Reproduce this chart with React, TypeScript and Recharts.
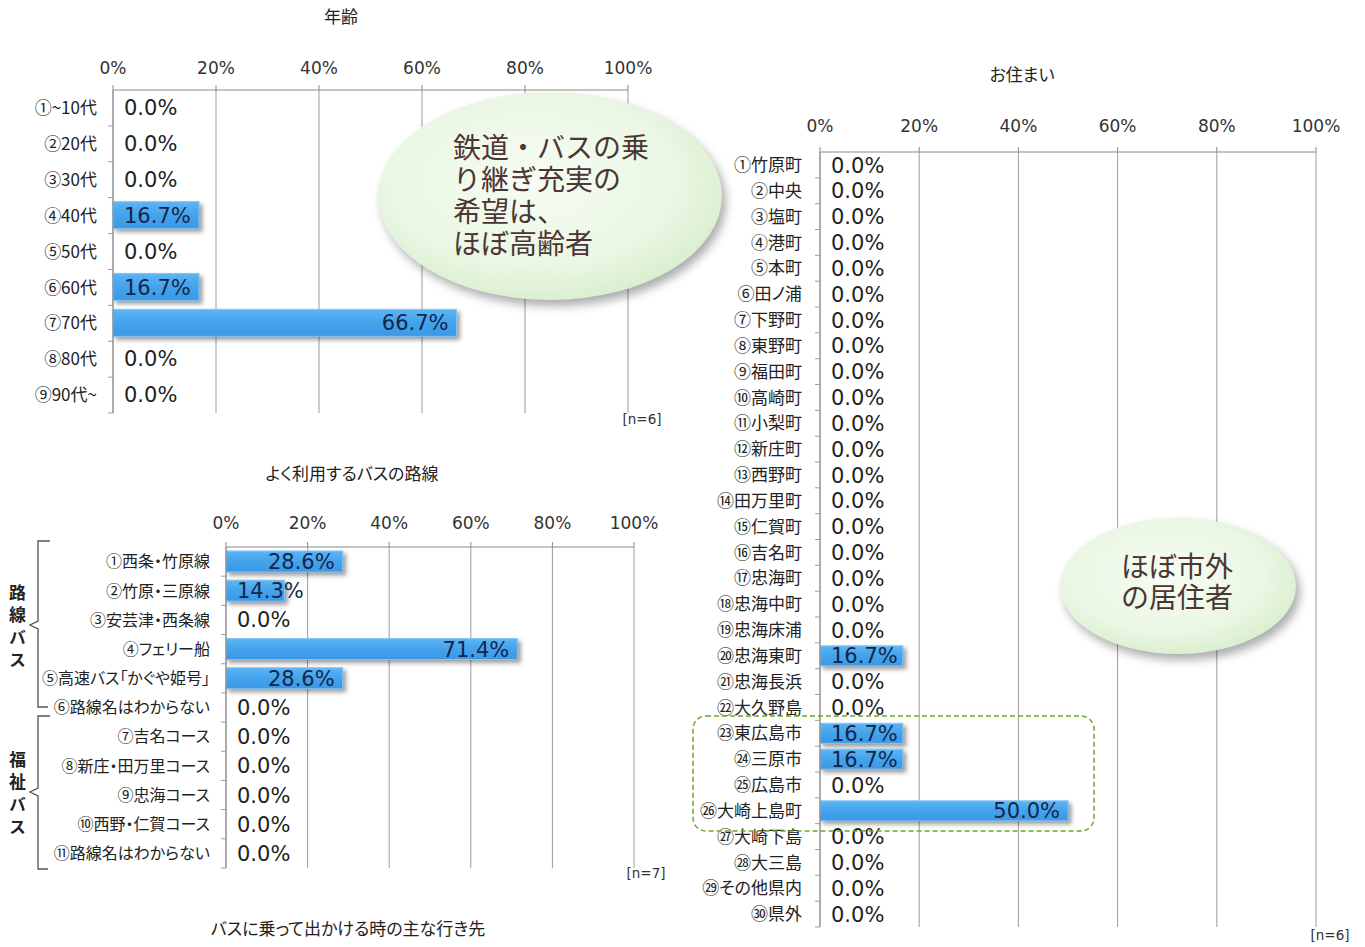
import React from 'react';
import { BarChart, Bar, XAxis, YAxis, CartesianGrid, LabelList } from 'recharts';

// ---------- data ----------
const ageCategories = ['①~10代', '②20代', '③30代', '④40代', '⑤50代', '⑥60代', '⑦70代', '⑧80代', '⑨90代~'];
const ageValues = [0, 0, 0, 16.7, 0, 16.7, 66.7, 0, 0];

const routeCategories = [
  '①西条・竹原線', '②竹原・三原線', '③安芸津・西条線', '④フェリー船', '⑤高速バス「かぐや姫号」',
  '⑥路線名はわからない', '⑦吉名コース', '⑧新庄・田万里コース', '⑨忠海コース', '⑩西野・仁賀コース', '⑪路線名はわからない',
];
const routeValues = [28.6, 14.3, 0, 71.4, 28.6, 0, 0, 0, 0, 0, 0];

const residenceCategories = [
  '①竹原町', '②中央', '③塩町', '④港町', '⑤本町', '⑥田ノ浦', '⑦下野町', '⑧東野町', '⑨福田町', '⑩高崎町',
  '⑪小梨町', '⑫新庄町', '⑬西野町', '⑭田万里町', '⑮仁賀町', '⑯吉名町', '⑰忠海町', '⑱忠海中町', '⑲忠海床浦', '⑳忠海東町',
  '㉑忠海長浜', '㉒大久野島', '㉓東広島市', '㉔三原市', '㉕広島市', '㉖大崎上島町', '㉗大崎下島', '㉘大三島', '㉙その他県内', '㉚県外',
];
const residenceValues = [
  0, 0, 0, 0, 0, 0, 0, 0, 0, 0,
  0, 0, 0, 0, 0, 0, 0, 0, 0, 16.7,
  0, 0, 16.7, 16.7, 0, 50.0, 0, 0, 0, 0,
];

const percentTicks = [0, 20, 40, 60, 80, 100];

const ageTitle = '年齢';
const routeTitle = 'よく利用するバスの路線';
const residenceTitle = 'お住まい';
const nextTitle = 'バスに乗って出かける時の主な行き先';

const bubble1Text = '鉄道・バスの乗\nり継ぎ充実の\n希望は、\nほぼ高齢者';
const bubble2Text = 'ほぼ市外\nの居住者';
const routeGroup1 = '路線バス';
const routeGroup2 = '福祉バス';

// ---------- styles ----------
const JP = '"Noto Sans CJK JP", "Noto Sans", sans-serif';
const NUM = '"DejaVu Sans", Verdana, sans-serif';
const GRID = '#9c9c9c';
const X_AXIS_H = 30;

const charW: Record<string, number> = { '.': 0.318, '%': 0.95 };
function estWidth(t: string, fs: number) {
  let w = 0;
  for (const c of t) w += charW[c] ?? 0.636;
  return w * fs;
}

const ShadowBar = (props: any) => {
  const { x, y, width, height } = props;
  if (!width || width <= 0) return <g />;
  return (
    <rect
      x={x}
      y={y}
      width={width}
      height={height}
      fill="url(#barGrad)"
      stroke="#86c4f3"
      strokeWidth={1}
      style={{ filter: 'drop-shadow(3px 3px 2px rgba(0,0,0,0.38))' }}
    />
  );
};

const ValueLabel = (props: any) => {
  const vb = props.viewBox || {};
  const x = props.x ?? vb.x;
  const y = props.y ?? vb.y;
  const width = props.width ?? vb.width ?? 0;
  const height = props.height ?? vb.height ?? 0;
  const fs = props.fontSize || 21;
  const text = `${Number(props.value).toFixed(1)}%`;
  const w = estWidth(text, fs);
  const cy = y + height / 2;
  const inside = width > w + 22;
  return (
    <text
      x={inside ? x + width - 8 : x + 11}
      y={cy}
      dy="0.36em"
      textAnchor={inside ? 'end' : 'start'}
      fontFamily={NUM}
      fontSize={fs}
      fill={Number(props.value) > 0 ? '#13264a' : '#1e1e1e'}
    >
      {text}
    </text>
  );
};

const CategoryTick = (props: any) => {
  const { x, y, payload, band, gap, fontSize } = props;
  return (
    <g>
      <text
        x={x - gap}
        y={y}
        dy="0.36em"
        textAnchor="end"
        fontFamily={JP}
        fontSize={fontSize}
        fill="#222"
        style={{ fontFeatureSettings: '"palt"' }}
      >
        {payload.value}
      </text>
      <line x1={x - 5} x2={x} y1={y + band / 2} y2={y + band / 2} stroke={GRID} />
    </g>
  );
};

type Spec = {
  categories: string[];
  values: number[];
  width: number;
  height: number;
  margin: { top: number; right: number; bottom: number; left: number };
  yWidth: number;
  barSize: number;
  tickGap: number;
  xTickMargin: number;
  labelFont: number;
  catFont: number;
};

function PercentBarChart({ spec }: { spec: Spec }) {
  const data = spec.categories.map((name, i) => ({ name, value: spec.values[i] }));
  const plotH = spec.height - spec.margin.top - spec.margin.bottom - X_AXIS_H;
  const band = plotH / data.length;
  return (
    <BarChart
      layout="vertical"
      width={spec.width}
      height={spec.height}
      data={data}
      margin={spec.margin}
      barSize={spec.barSize}
    >
      <CartesianGrid horizontal={false} stroke={GRID} />
      <XAxis
        type="number"
        orientation="top"
        domain={[0, 100]}
        ticks={percentTicks}
        tickFormatter={(v: number) => `${v}%`}
        height={X_AXIS_H}
        axisLine={{ stroke: '#8a8a8a' }}
        tickLine={{ stroke: '#8a8a8a' }}
        tickSize={5}
        tickMargin={spec.xTickMargin}
        tick={{ fill: '#333', fontSize: 17, fontFamily: NUM }}
        interval={0}
      />
      <YAxis
        type="category"
        dataKey="name"
        width={spec.yWidth}
        axisLine={{ stroke: '#8a8a8a' }}
        tickLine={false}
        tickSize={0}
        tickMargin={0}
        interval={0}
        tick={(p: any) => (
          <CategoryTick {...p} band={band} gap={spec.tickGap} fontSize={spec.catFont} />
        )}
      />
      <Bar dataKey="value" isAnimationActive={false} shape={<ShadowBar />}>
        <LabelList dataKey="value" content={<ValueLabel fontSize={spec.labelFont} />} />
      </Bar>
    </BarChart>
  );
}

const ageSpec: Spec = {
  categories: ageCategories,
  values: ageValues,
  width: 700,
  height: 430,
  margin: { top: 60, right: 72, bottom: 17, left: 0 },
  yWidth: 113,
  barSize: 27,
  tickGap: 16,
  xTickMargin: 11,
  labelFont: 21,
  catFont: 17,
};

const routeSpec: Spec = {
  categories: routeCategories,
  values: routeValues,
  width: 700,
  height: 460,
  margin: { top: 77, right: 66, bottom: 32, left: 0 },
  yWidth: 226,
  barSize: 21,
  tickGap: 16,
  xTickMargin: 13,
  labelFont: 21,
  catFont: 16,
};

const residenceSpec: Spec = {
  categories: residenceCategories,
  values: residenceValues,
  width: 685,
  height: 907,
  margin: { top: 82, right: 49, bottom: 20, left: 0 },
  yWidth: 140,
  barSize: 20,
  tickGap: 18,
  xTickMargin: 15,
  labelFont: 21,
  catFont: 17,
};

const titleStyle = { fontFamily: JP, fontSize: 17, fill: '#222', fontFeatureSettings: '"palt"' } as any;
const nStyle = { fontFamily: NUM, fontSize: 13.5, fill: '#333' } as any;

const bubbleDiv: React.CSSProperties = {
  position: 'absolute',
  fontFamily: JP,
  fontSize: 28,
  color: '#4b3535',
  whiteSpace: 'pre',
};

const vertDiv: React.CSSProperties = {
  position: 'absolute',
  writingMode: 'vertical-rl',
  fontFamily: JP,
  fontSize: 17,
  fontWeight: 700,
  lineHeight: '18px',
  letterSpacing: '5.5px',
  color: '#222',
  whiteSpace: 'nowrap',
};

export default function App() {
  return (
    <div
      style={{
        position: 'absolute',
        left: 0,
        top: 0,
        width: 1365,
        height: 947,
        background: '#fff',
        overflow: 'hidden',
      }}
    >
      <div style={{ position: 'absolute', left: 0, top: 0 }}>
        <PercentBarChart spec={ageSpec} />
      </div>
      <div style={{ position: 'absolute', left: 0, top: 440 }}>
        <PercentBarChart spec={routeSpec} />
      </div>
      <div style={{ position: 'absolute', left: 680, top: 40 }}>
        <PercentBarChart spec={residenceSpec} />
      </div>

      <svg
        width={1365}
        height={947}
        style={{ position: 'absolute', left: 0, top: 0, pointerEvents: 'none' }}
      >
        <defs>
          <linearGradient id="barGrad" x1="0" y1="0" x2="0" y2="1">
            <stop offset="0%" stopColor="#5cb5f5" />
            <stop offset="50%" stopColor="#44a3ec" />
            <stop offset="100%" stopColor="#3a98e6" />
          </linearGradient>
          <radialGradient id="bubbleGrad" cx="45%" cy="42%" r="60%">
            <stop offset="0%" stopColor="#f6fcf2" />
            <stop offset="70%" stopColor="#eaf7e3" />
            <stop offset="100%" stopColor="#d9eecf" />
          </radialGradient>
        </defs>

        {/* titles */}
        <text x={341} y={23} textAnchor="middle" style={titleStyle}>{ageTitle}</text>
        <text x={1022} y={81} textAnchor="middle" style={titleStyle}>{residenceTitle}</text>
        <text x={352} y={480} textAnchor="middle" style={titleStyle}>{routeTitle}</text>
        <text x={348} y={935} textAnchor="middle" style={titleStyle}>{nextTitle}</text>

        {/* sample sizes */}
        <text x={642} y={424} textAnchor="middle" style={nStyle}>[n=6]</text>
        <text x={646} y={878} textAnchor="middle" style={nStyle}>[n=7]</text>
        <text x={1330} y={940} textAnchor="middle" style={nStyle}>[n=6]</text>

        {/* bubbles */}
        <ellipse
          cx={550}
          cy={196}
          rx={172}
          ry={104}
          fill="url(#bubbleGrad)"
          style={{ filter: 'drop-shadow(4px 6px 5px rgba(0,0,0,0.32))' }}
        />
        <ellipse
          cx={1178}
          cy={586}
          rx={118}
          ry={68}
          fill="url(#bubbleGrad)"
          style={{ filter: 'drop-shadow(4px 6px 5px rgba(0,0,0,0.32))' }}
        />

        {/* dashed highlight */}
        <rect
          x={693}
          y={716}
          width={401}
          height={115}
          rx={13}
          fill="none"
          stroke="#6fa52a"
          strokeWidth={1.5}
          strokeDasharray="5 3"
        />

        {/* brackets */}
        <path d="M50,541 L38,541 L38,621 L30,625 L38,629 L38,707 L48,707" fill="none" stroke="#555" strokeWidth={1.3} />
        <path d="M50,716 L38,716 L38,788 L30,792 L38,796 L38,869 L48,869" fill="none" stroke="#555" strokeWidth={1.3} />
      </svg>

      {/* bubble texts */}
      <div style={{ ...bubbleDiv, left: 453, top: 130, lineHeight: '32px' }}>{bubble1Text}</div>
      <div style={{ ...bubbleDiv, left: 1057, top: 550, width: 240, textAlign: 'center', lineHeight: '31px' }}>
        {bubble2Text}
      </div>

      {/* vertical group labels */}
      <div style={{ ...vertDiv, left: 8, top: 584 }}>{routeGroup1}</div>
      <div style={{ ...vertDiv, left: 8, top: 751 }}>{routeGroup2}</div>
    </div>
  );
}
